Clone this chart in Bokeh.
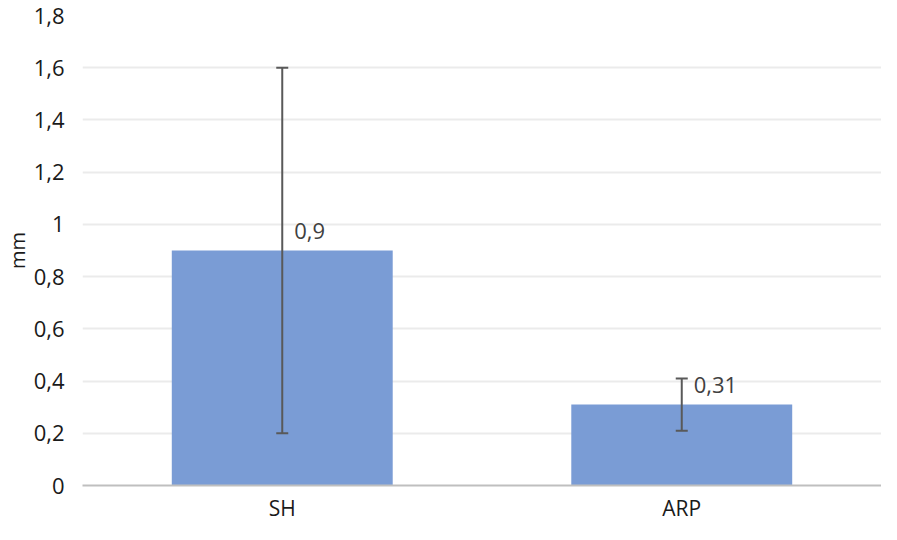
from bokeh.plotting import figure
from bokeh.models import ColumnDataSource, Whisker, TeeHead, FixedTicker, Range1d, LabelSet
from bokeh.core.properties import value
from bokeh.embed import file_html
from bokeh.resources import INLINE

categories = ["SH", "ARP"]
means = [0.9, 0.31]
lower = [0.2, 0.21]
upper = [1.6, 0.41]
value_labels = ["0,9", "0,31"]
y_ticks = [0, 0.2, 0.4, 0.6, 0.8, 1.0, 1.2, 1.4, 1.6, 1.8]
y_tick_labels = ["0", "0,2", "0,4", "0,6", "0,8", "1", "1,2", "1,4", "1,6", "1,8"]

src = ColumnDataSource(dict(cat=categories, mean=means, lower=lower, upper=upper, lab=value_labels))

FONT = "Open Sans"
TXT = "#1a1a1a"
p = figure(x_range=categories, y_range=Range1d(0, 1.8), width=881, height=524,
           output_backend="svg", toolbar_location=None,
           min_border_left=0, min_border_right=0, min_border_top=15, min_border_bottom=0)
p.outline_line_color = None
p.background_fill_color = "white"

p.vbar(x="cat", top="mean", width=0.553, source=src, color="#7A9CD5", line_color=None)

wh = Whisker(source=src, base="cat", lower="lower", upper="upper", level="overlay",
             line_color="#595959", line_width=2,
             upper_head=TeeHead(size=12, line_color="#595959", line_width=2),
             lower_head=TeeHead(size=12, line_color="#595959", line_width=2))
p.add_layout(wh)

labels = LabelSet(source=src, x="cat", y="mean", text="lab", x_offset=12, y_offset=12,
                  text_baseline="bottom", text_align="left", text_color="#404040",
                  text_font_size="22px", text_font=value(FONT))
p.add_layout(labels)

p.yaxis.ticker = FixedTicker(ticks=y_ticks)
p.yaxis.major_label_overrides = {t: l for t, l in zip(y_ticks, y_tick_labels)}
p.yaxis.axis_line_color = None
p.yaxis.major_tick_line_color = None
p.yaxis.major_tick_out = 0
p.yaxis.major_tick_in = 0
p.yaxis.minor_tick_line_color = None
p.yaxis.major_label_text_font = FONT
p.yaxis.major_label_text_font_size = "22px"
p.yaxis.major_label_text_color = TXT
p.yaxis.major_label_standoff = 18
p.yaxis.axis_label = "mm"
p.yaxis.axis_label_text_font = FONT
p.yaxis.axis_label_text_font_size = "20px"
p.yaxis.axis_label_text_font_style = "normal"
p.yaxis.axis_label_text_color = TXT
p.yaxis.axis_label_standoff = 0

p.xaxis.axis_line_color = "#BFBFBF"
p.xaxis.axis_line_width = 2
p.xaxis.major_tick_line_color = None
p.xaxis.major_tick_out = 0
p.xaxis.major_tick_in = 0
p.xaxis.minor_tick_line_color = None
p.xaxis.major_label_text_font = FONT
p.xaxis.major_label_text_font_size = "21px"
p.xaxis.major_label_text_color = TXT
p.xaxis.major_label_standoff = 8

p.xgrid.grid_line_color = None
p.ygrid.grid_line_color = "#EBEBEB"
p.ygrid.grid_line_width = 2

open("out.html", "w").write(file_html(p, INLINE))
